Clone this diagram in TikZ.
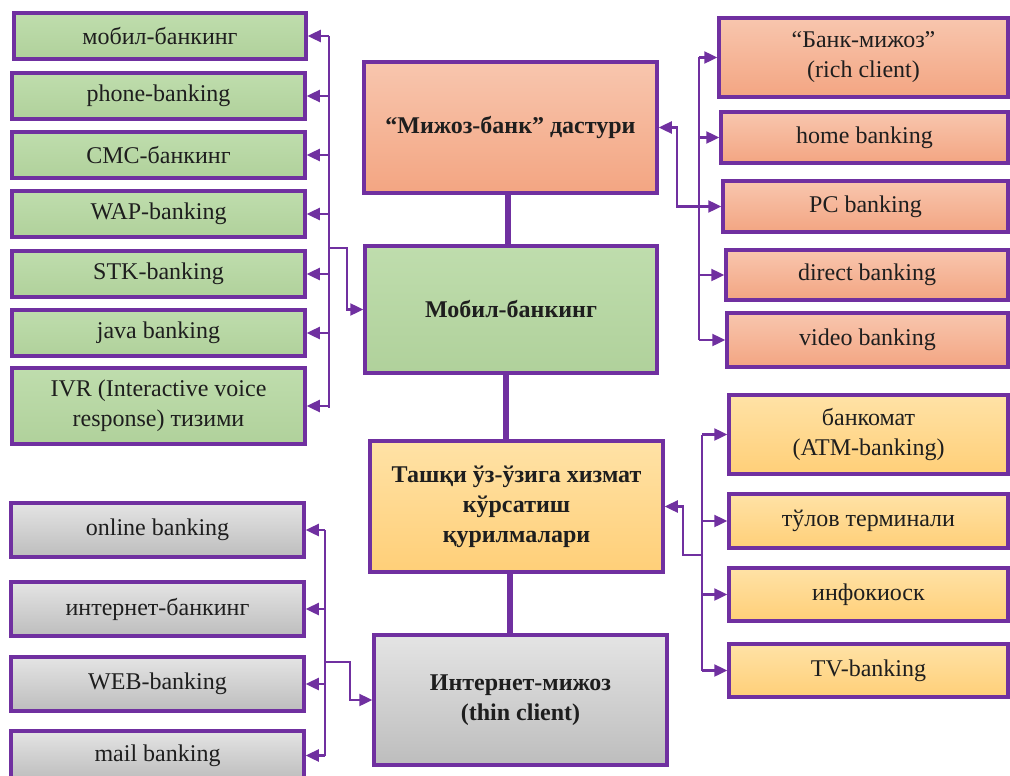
\documentclass[tikz,border=0pt]{standalone}
\usepackage{fontspec}
\newfontfamily\tnr{LiberationSerif}[Extension=.ttf, UprightFont=*-Regular, BoldFont=*-Bold]
\usetikzlibrary{arrows.meta,calc}
\definecolor{pur}{HTML}{7030A0}
\definecolor{txt}{HTML}{1E1E1E}
\definecolor{gnT}{HTML}{BFDDAD}
\definecolor{gnB}{HTML}{B0D19B}
\definecolor{saT}{HTML}{F8C6AE}
\definecolor{saB}{HTML}{F3A582}
\definecolor{yeT}{HTML}{FFE2A6}
\definecolor{yeB}{HTML}{FFCF78}
\definecolor{grT}{HTML}{E4E4E4}
\definecolor{grB}{HTML}{BDBDBD}
\tikzset{
  box/.style={draw=pur, line width=3.5pt, inner sep=0pt, align=center, text=txt,
    font=\tnr\fontsize{24}{30}\selectfont},
  gbox/.style={box, top color=gnT, bottom color=gnB},
  sbox/.style={box, top color=saT, bottom color=saB},
  ybox/.style={box, top color=yeT, bottom color=yeB},
  rbox/.style={box, top color=grT, bottom color=grB},
  bold/.style={font=\tnr\fontsize{24}{30}\selectfont\bfseries},
  bus/.style={draw=pur, line width=2.4pt},
  arr/.style={draw=pur, line width=2.4pt, -{Triangle[length=13pt,width=12pt]}},
  thk/.style={draw=pur, line width=6pt}
}
\newcommand{\bx}[7]{\node[#6, minimum width={(#4-#2)*1pt}, minimum height={(#5-#3)*1pt}] (#1) at ({(#2+#4)/2},{(#3+#5)/2}) {#7};}
\begin{document}
\begin{tikzpicture}[x=1pt,y=-1pt]
\useasboundingbox (0,0) rectangle (1010,776);
\clip (0,0) rectangle (1010,776);
% green column
\bx{g1}{14}{13}{306}{59}{gbox}{мобил-банкинг}
\bx{g2}{12}{73}{305}{119}{gbox}{phone-banking}
\bx{g3}{12}{132}{305}{178}{gbox}{СМС-банкинг}
\bx{g4}{12}{191}{305}{237}{gbox}{WAP-banking}
\bx{g5}{12}{251}{305}{297}{gbox}{STK-banking}
\bx{g6}{12}{310}{305}{356}{gbox}{java banking}
\bx{g7}{12}{368}{305}{444}{gbox}{IVR (Interactive voice\\response) тизими}
% center column
\bx{m1}{364}{62}{657}{193}{sbox,bold}{“Мижоз-банк” дастури}
\bx{m2}{365}{246}{657}{373}{gbox,bold}{Мобил-банкинг}
\bx{m3}{370}{441}{663}{572}{ybox,bold}{Ташқи ўз-ўзига хизмат\\кўрсатиш\\қурилмалари}
\bx{m4}{374}{635}{667}{765}{rbox,bold}{Интернет-мижоз\\(thin client)}
% salmon column
\bx{r1}{719}{18}{1008}{97}{sbox}{“Банк-мижоз”\\(rich client)}
\bx{r2}{721}{112}{1008}{163}{sbox}{home banking}
\bx{r3}{723}{181}{1008}{232}{sbox}{PC banking}
\bx{r4}{726}{250}{1008}{300}{sbox}{direct banking}
\bx{r5}{727}{313}{1008}{367}{sbox}{video banking}
% yellow column
\bx{y1}{729}{395}{1008}{474}{ybox}{банкомат\\(ATM-banking)}
\bx{y2}{729}{494}{1008}{548}{ybox}{тўлов терминали}
\bx{y3}{729}{568}{1008}{621}{ybox}{инфокиоск}
\bx{y4}{729}{644}{1008}{697}{ybox}{TV-banking}
% grey column
\bx{k1}{11}{503}{304}{557}{rbox}{online banking}
\bx{k2}{11}{582}{304}{636}{rbox}{интернет-банкинг}
\bx{k3}{11}{657}{304}{711}{rbox}{WEB-banking}
\bx{k4}{11}{731}{304}{780}{rbox}{mail banking}
% thick central links
\draw[thk] (m1.south -| 508,0) -- (m2.north -| 508,0);
\draw[thk] (m2.south -| 506,0) -- (m3.north -| 506,0);
\draw[thk] (m3.south -| 510,0) -- (m4.north -| 510,0);
% green bus
\coordinate (gbT) at (329,36);
\coordinate (gbB) at (329,408);
\draw[bus] (gbT) -- (gbB);
\foreach \n in {g1,g2,g3,g4,g5,g6,g7} \draw[arr] (\n.east -| gbT) -- (\n.east);
\coordinate (gbr) at (347,248);
\draw[arr] (gbT |- gbr) -- (gbr) |- (m2.west);
% salmon bus
\coordinate (rbT) at (699,57.5);
\coordinate (rbB) at (699,340);
\draw[bus] (rbT) -- (rbB);
\foreach \n in {r1,r2,r3,r4,r5} \draw[arr] (\n.west -| rbT) -- (\n.west);
\coordinate (rbr) at (677,206.5);
\draw[arr] (rbT |- rbr) -- (rbr) |- (m1.east);
% yellow bus
\coordinate (ybT) at (702,434.5);
\coordinate (ybB) at (702,670.5);
\draw[bus] (ybT) -- (ybB);
\foreach \n in {y1,y2,y3,y4} \draw[arr] (\n.west -| ybT) -- (\n.west);
\coordinate (ybr) at (683,555);
\draw[arr] (ybT |- ybr) -- (ybr) |- (m3.east);
% grey bus
\coordinate (kbT) at (325,530);
\coordinate (kbB) at (325,755.5);
\draw[bus] (kbT) -- (kbB);
\foreach \n in {k1,k2,k3,k4} \draw[arr] (\n.east -| kbT) -- (\n.east);
\coordinate (kbr) at (350,662);
\draw[arr] (kbT |- kbr) -- (kbr) |- (m4.west);
\end{tikzpicture}
\end{document}
